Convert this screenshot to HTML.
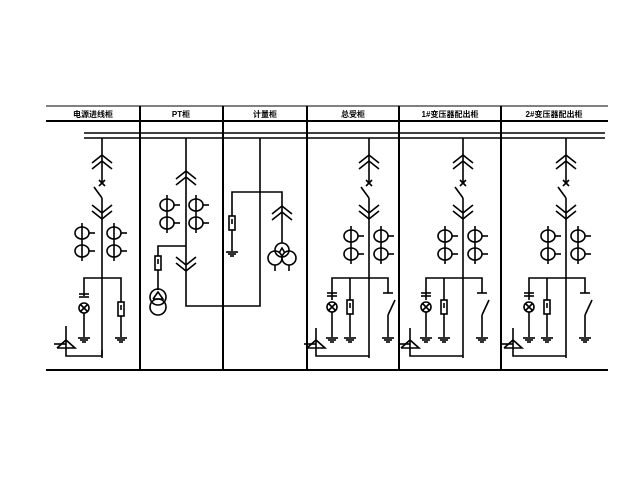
<!DOCTYPE html>
<html><head><meta charset="utf-8"><style>
html,body{margin:0;padding:0;background:#fff;width:640px;height:480px;overflow:hidden}
svg{display:block}
text{font-family:"Liberation Sans","Noto Sans CJK SC",sans-serif;font-size:8px;font-weight:bold;fill:#000;text-anchor:middle}
</style></head><body>
<svg width="640" height="480" viewBox="0 0 640 480" xmlns="http://www.w3.org/2000/svg">
<defs>
<g id="sw" fill="none" stroke="#000" stroke-width="1.6">
 <polyline points="-10,25 0,17 10,25"/><polyline points="-10,31 0,23 10,31"/>
 <line x1="-3" y1="42" x2="3" y2="48"/><line x1="3" y1="42" x2="-3" y2="48"/>
 <line x1="0" y1="0" x2="0" y2="45"/>
 <line x1="-8" y1="49" x2="0" y2="60"/>
 <line x1="0" y1="60" x2="0" y2="220"/>
 <polyline points="-10,67 0,75 10,67"/><polyline points="-10,73 0,81 10,73"/>
</g>
<g id="ct" fill="none" stroke="#000" stroke-width="1.6">
 <line x1="0" y1="-10" x2="0" y2="28"/>
 <ellipse cx="0" cy="0" rx="7" ry="6"/><ellipse cx="0" cy="18" rx="7" ry="6"/>
 <line x1="7" y1="0" x2="13" y2="0"/><line x1="7" y1="18" x2="13" y2="18"/>
</g>
<g id="gnd" stroke="#000" stroke-width="1.6"><line x1="-6" y1="0" x2="6" y2="0"/><line x1="-4" y1="2" x2="4" y2="2"/><line x1="-2" y1="4" x2="2" y2="4"/></g>
<g id="arr" fill="none" stroke="#000" stroke-width="1.6"><rect x="-3" y="0" width="6" height="14" fill="#fff"/><line x1="0" y1="3" x2="0" y2="8"/></g>
<g id="lamp" fill="none" stroke="#000" stroke-width="1.6">
 <line x1="-5" y1="0" x2="5" y2="0"/><line x1="-5" y1="3" x2="5" y2="3"/>
 <circle cx="0" cy="14" r="5" fill="#fff"/><line x1="-3.5" y1="10.5" x2="3.5" y2="17.5"/><line x1="3.5" y1="10.5" x2="-3.5" y2="17.5"/>
</g>
<g id="tri" fill="none" stroke="#000" stroke-width="1.6"><polyline points="-9,10 0,2 9,10 -9,10"/><line x1="-12" y1="6" x2="0" y2="6"/></g>
<g id="feeder" fill="none" stroke="#000" stroke-width="1.6">
 <use href="#sw" transform="translate(0,138)"/>
 <use href="#ct" transform="translate(-18,236)"/><use href="#ct" transform="translate(12,236)"/>
 <polyline points="-37,300 -37,278 19,278 19,293"/>
 <line x1="-19" y1="278" x2="-19" y2="337"/>
 <use href="#lamp" transform="translate(-37,293)"/>
 <line x1="-37" y1="312" x2="-37" y2="337"/>
 <use href="#arr" transform="translate(-19,300)"/>
 <line x1="14" y1="293" x2="24" y2="293"/>
 <line x1="26" y1="300" x2="19" y2="315"/>
 <line x1="19" y1="315" x2="19" y2="337"/>
 <use href="#gnd" transform="translate(-37,338)"/><use href="#gnd" transform="translate(-19,338)"/><use href="#gnd" transform="translate(19,338)"/>
 <polyline points="0,356 -53,356 -53,328"/>
 <use href="#tri" transform="translate(-53,338)"/>
</g>
</defs>
<g stroke="#000" fill="none">
 <line x1="46" y1="106" x2="608" y2="106" stroke-width="1"/>
 <line x1="46" y1="121" x2="608" y2="121" stroke-width="2"/>
 <line x1="46" y1="370" x2="608" y2="370" stroke-width="2"/>
 <g stroke-width="2">
 <line x1="140" y1="106" x2="140" y2="370"/><line x1="223" y1="106" x2="223" y2="370"/>
 <line x1="307" y1="106" x2="307" y2="370"/><line x1="399" y1="106" x2="399" y2="370"/>
 <line x1="501" y1="106" x2="501" y2="370"/>
 </g>
 <line x1="84" y1="133" x2="605" y2="133" stroke-width="1.6"/>
 <line x1="84" y1="138" x2="605" y2="138" stroke-width="1.6"/>
</g>
<text x="93" y="117">电源进线柜</text>
<text x="181" y="117">PT柜</text>
<text x="265" y="117">计量柜</text>
<text x="353" y="117">总受柜</text>
<text x="450" y="117">1#变压器配出柜</text>
<text x="554" y="117">2#变压器配出柜</text>
<g fill="none" stroke="#000" stroke-width="1.6">
 <use href="#sw" transform="translate(102,138)"/>
 <line x1="102" y1="350" x2="102" y2="356"/>
 <use href="#ct" transform="translate(82,233)"/><use href="#ct" transform="translate(114,233)"/>
 <polyline points="84,296 84,278 121,278 121,302"/>
 <use href="#lamp" transform="translate(84,294)"/>
 <line x1="84" y1="313" x2="84" y2="337"/>
 <use href="#arr" transform="translate(121,302)"/>
 <line x1="121" y1="316" x2="121" y2="337"/>
 <use href="#gnd" transform="translate(84,338)"/><use href="#gnd" transform="translate(121,338)"/>
 <polyline points="102,356 66,356 66,326"/>
 <use href="#tri" transform="translate(66,338)"/>
</g>
<g fill="none" stroke="#000" stroke-width="1.6">
 <polyline points="186,138 186,306 260,306 260,138"/>
 <polyline points="176,179 186,171 196,179"/><polyline points="176,185 186,177 196,185"/>
 <use href="#ct" transform="translate(167,205)"/><use href="#ct" transform="translate(196,205)"/>
 <polyline points="186,246 158,246 158,290"/>
 <use href="#arr" transform="translate(158,256)"/>
 <circle cx="158" cy="297" r="8"/><circle cx="158" cy="307" r="8"/>
 <polyline points="153,299 158,292 163,299 153,299"/>
 <polyline points="176,257 186,265 196,257"/><polyline points="176,263 186,271 196,263"/>
 <polyline points="232,216 232,192 282,192 282,243"/>
 <use href="#arr" transform="translate(232,216)"/>
 <line x1="232" y1="230" x2="232" y2="251"/>
 <use href="#gnd" transform="translate(232,252)"/>
 <polyline points="272,214 282,206 292,214"/><polyline points="272,220 282,212 292,220"/>
 <circle cx="282" cy="250" r="7"/><circle cx="275" cy="258" r="7"/><circle cx="289" cy="258" r="7"/>
 <line x1="275" y1="265" x2="275" y2="271"/><line x1="289" y1="265" x2="289" y2="271"/>
 <polyline points="279,253 282,248 285,253"/>
</g>
<use href="#feeder" transform="translate(369,0)"/>
<use href="#feeder" transform="translate(463,0)"/>
<use href="#feeder" transform="translate(566,0)"/>
</svg>
</body></html>
